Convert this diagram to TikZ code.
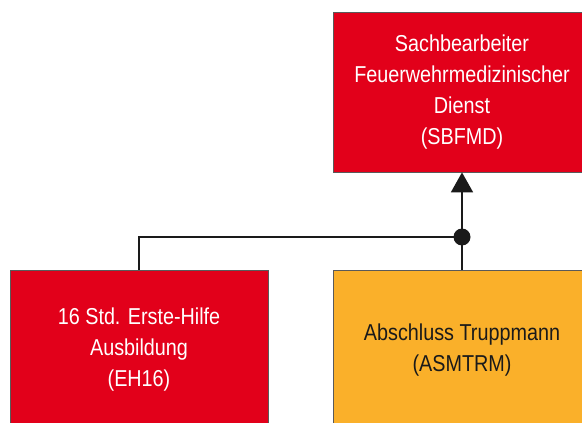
\documentclass[tikz,border=0pt]{standalone}
\usepackage{fontspec}
\setmainfont[FakeStretch=0.86]{Liberation Sans}
\usetikzlibrary{arrows.meta}
\definecolor{fwrot}{HTML}{E2001A}
\definecolor{fworange}{HTML}{FAB02A}
\definecolor{fwrand}{HTML}{5A5A5A}
\definecolor{fwlinie}{HTML}{1A1A1A}
\begin{document}
\begin{tikzpicture}[x=1pt, y=-1pt,
  kurs/.style={rectangle, draw=fwrand, line width=0.8pt, minimum width=258pt,
    minimum height=160pt, align=center, inner sep=0pt,
    font=\fontsize{23}{31}\selectfont},
  kursrot/.style={kurs, fill=fwrot, text=white},
  kursorange/.style={kurs, fill=fworange, text=fwlinie},
  linie/.style={draw=fwlinie, line width=1.8pt}]
\useasboundingbox (0,0) rectangle (582,423);
\clip (0,0) rectangle (582,423);

% Lehrgang oben
\node[kursrot] (sbfmd) at (462,92) {Sachbearbeiter\\Feuerwehrmedizinischer\\Dienst\\(SBFMD)};

% Voraussetzungen
\node[kursrot] (eh16) at (139,350) {16 Std. Erste-Hilfe\\Ausbildung\\(EH16)};
\node[kursorange] (asmtrm) at (462,350) {Abschluss Truppmann\\(ASMTRM)};

% Verbindungen
\coordinate (knoten) at (462,237);
\draw[linie] (eh16.north) |- (knoten);
\draw[linie] (asmtrm.north) -- (knoten);
\draw[linie, -{Triangle[width=22pt,length=20pt]}] (knoten) -- (sbfmd.south);
\fill[fwlinie] (knoten) circle (8.5pt);
\end{tikzpicture}
\end{document}
